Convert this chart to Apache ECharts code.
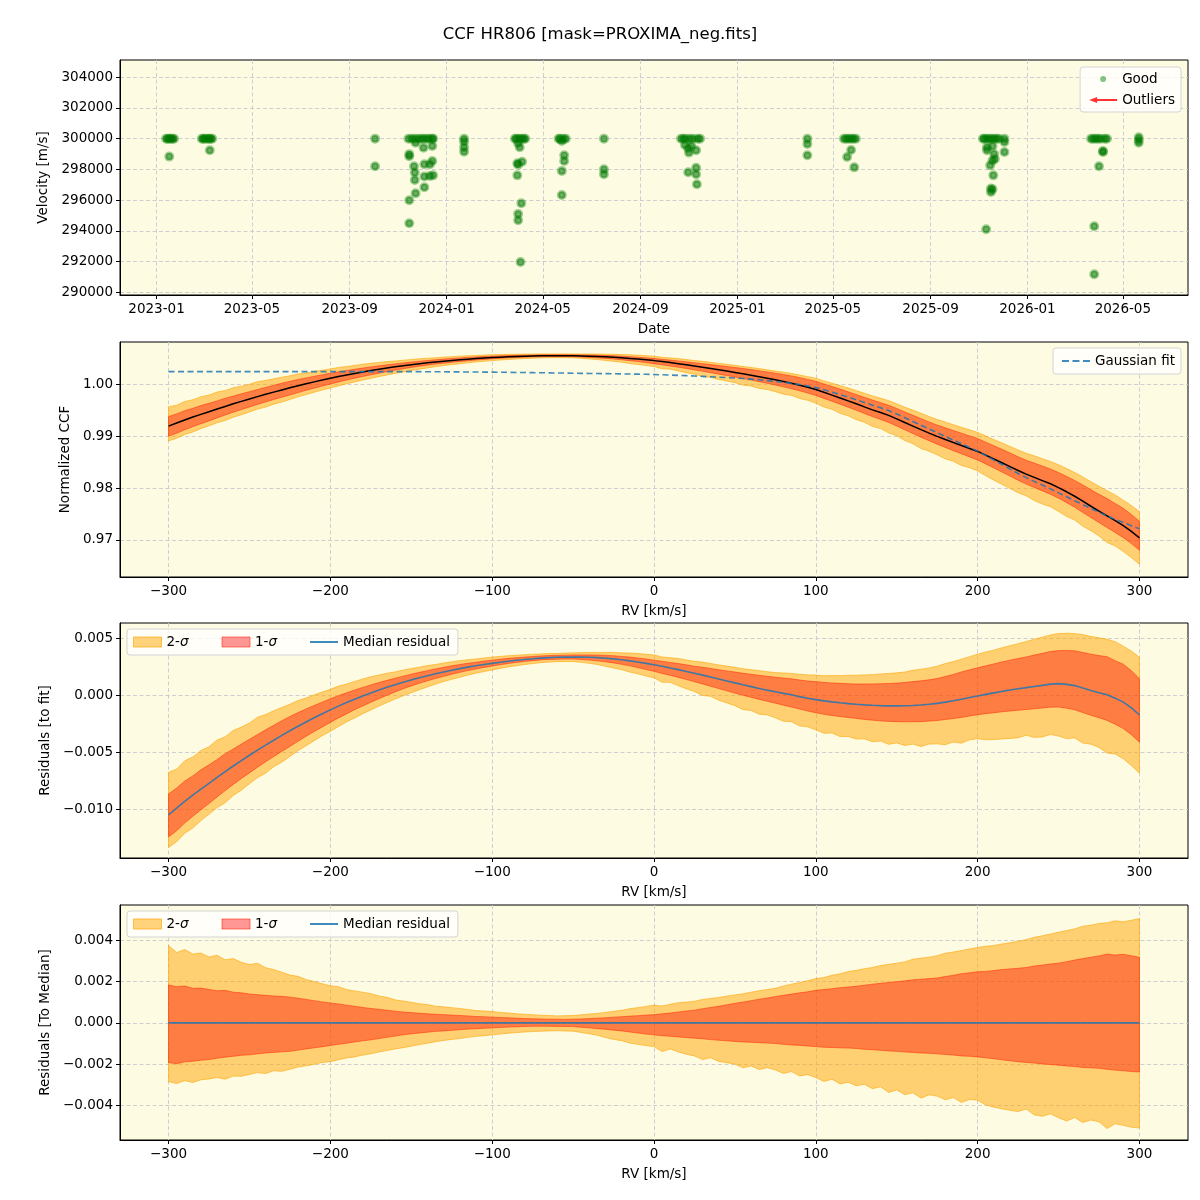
<!DOCTYPE html>
<html><head><meta charset="utf-8">
<script src="https://cdn.jsdelivr.net/npm/echarts/dist/echarts.min.js"></script>
<style>html,body{margin:0;padding:0;background:#fff}#c{width:1200px;height:1200px}</style>
</head><body><div id="c"></div>
<script>
const chartTitle = 'CCF HR806 [mask=PROXIMA_neg.fits]';

// ---- Panel 1: RV time series (date, velocity m/s) ----
const observations = [
 ['2023-01-13',300000],['2023-01-15',300000],['2023-01-17',300000],['2023-01-17',298830],['2023-01-19',300000],['2023-01-21',300000],['2023-01-23',300000],
 ['2023-02-27',300000],['2023-03-01',300000],['2023-03-03',300000],['2023-03-06',300000],['2023-03-08',300000],['2023-03-09',299240],['2023-03-10',300000],['2023-03-12',300000],
 ['2023-10-03',300000],['2023-10-03',298200],
 ['2023-11-14',300000],['2023-11-15',298990],['2023-11-15',298850],['2023-11-15',295990],['2023-11-15',294490],['2023-11-18',300000],['2023-11-21',298200],
 ['2023-11-22',300000],['2023-11-22',297790],['2023-11-22',297310],['2023-11-23',299740],['2023-11-23',296440],['2023-11-26',300000],['2023-11-30',300000],
 ['2023-12-03',300000],['2023-12-03',299410],['2023-12-04',298330],['2023-12-04',297530],['2023-12-04',296830],['2023-12-07',300000],['2023-12-10',300000],
 ['2023-12-11',298330],['2023-12-11',297570],['2023-12-14',300000],['2023-12-14',299520],['2023-12-14',298550],['2023-12-15',297610],['2023-12-15',300000],
 ['2024-01-23',300000],['2024-01-23',299800],['2024-01-23',299440],['2024-01-23',299150],
 ['2024-03-27',300000],['2024-03-29',300000],['2024-03-30',298400],['2024-03-30',297610],['2024-03-31',298310],['2024-03-31',295100],['2024-03-31',294690],
 ['2024-03-31',299700],['2024-04-01',300000],['2024-04-02',299440],['2024-04-03',291970],['2024-04-04',295790],['2024-04-04',300000],['2024-04-05',298500],
 ['2024-04-07',300000],['2024-04-09',300000],
 ['2024-05-21',300000],['2024-05-23',300000],['2024-05-25',299850],['2024-05-25',297900],['2024-05-25',296330],['2024-05-27',300000],['2024-05-28',298920],
 ['2024-05-28',298550],['2024-05-30',300000],
 ['2024-07-17',300000],['2024-07-17',298000],['2024-07-17',297680],
 ['2024-10-22',300000],['2024-10-25',300000],['2024-10-27',299590],['2024-10-28',300000],['2024-10-31',299370],['2024-10-31',297810],['2024-11-01',299090],
 ['2024-11-02',300000],['2024-11-04',299520],['2024-11-06',300000],['2024-11-10',299240],['2024-11-10',298110],['2024-11-10',297680],['2024-11-11',297030],
 ['2024-11-12',300000],['2024-11-15',300000],
 ['2025-03-30',300000],['2025-03-30',299650],['2025-03-30',298920],
 ['2025-05-15',300000],['2025-05-18',300000],['2025-05-19',298810],['2025-05-21',300000],['2025-05-24',299260],['2025-05-24',300000],['2025-05-27',300000],
 ['2025-05-28',298130],['2025-05-30',300000],
 ['2025-11-06',300000],['2025-11-08',300000],['2025-11-10',294100],['2025-11-11',299440],['2025-11-11',299240],['2025-11-11',300000],['2025-11-14',300000],
 ['2025-11-15',298260],['2025-11-16',296750],['2025-11-16',296530],['2025-11-17',300000],['2025-11-18',299520],['2025-11-18',298570],['2025-11-18',296700],
 ['2025-11-19',297610],['2025-11-20',299000],['2025-11-20',300000],['2025-11-21',298680],['2025-11-23',300000],['2025-11-26',300000],['2025-12-03',300000],
 ['2025-12-03',299780],['2025-12-03',299130],
 ['2026-03-22',300000],['2026-03-25',300000],['2026-03-26',294300],['2026-03-26',291170],['2026-03-28',300000],['2026-03-31',300000],['2026-04-01',298200],
 ['2026-04-03',300000],['2026-04-06',299130],['2026-04-06',299200],['2026-04-08',300000],['2026-04-11',300000],
 ['2026-05-21',300090],['2026-05-21',299910],['2026-05-21',299740]
];
const outliers = [];
const dateTicks = ['2023-01','2023-05','2023-09','2024-01','2024-05','2024-09','2025-01','2025-05','2025-09','2026-01','2026-05'];
const dateRange = ['2022-11-16','2026-07-22'];
const velTicks = [290000,292000,294000,296000,298000,300000,302000,304000];

// ---- Panels 2-4: CCF profile vs RV (km/s) ----
const rv = [
 -300,-295,-290,-285,-280,-275,-270,-265,-260,-255,-250,-245,-240,-235,-230,-225,-220,-215,-210,-205,
 -200,-195,-190,-185,-180,-175,-170,-165,-160,-155,-150,-145,-140,-135,-130,-125,-120,-115,-110,-105,
 -100,-95,-90,-85,-80,-75,-70,-65,-60,-55,-50,-45,-40,-35,-30,-25,-20,-15,-10,-5,
 0,5,10,15,20,25,30,35,40,45,50,55,60,65,70,75,80,85,90,95,
 100,105,110,115,120,125,130,135,140,145,150,155,160,165,170,175,180,185,190,195,
 200,205,210,215,220,225,230,235,240,245,250,255,260,265,270,275,280,285,290,295,300
];
const ccfMedian = [
 0.99195,0.99255,0.99314,0.99370,0.99422,0.99473,0.99525,0.99575,0.99625,0.99672,
 0.99719,0.99764,0.99808,0.99851,0.99893,0.99934,0.99973,1.00011,1.00048,1.00083,
 1.00117,1.00150,1.00181,1.00211,1.00239,1.00266,1.00291,1.00315,1.00338,1.00360,
 1.00380,1.00399,1.00416,1.00432,1.00447,1.00461,1.00474,1.00486,1.00497,1.00507,
 1.00516,1.00524,1.00531,1.00537,1.00542,1.00546,1.00550,1.00552,1.00553,1.00553,
 1.00551,1.00548,1.00544,1.00539,1.00532,1.00524,1.00513,1.00501,1.00489,1.00474,
 1.00458,1.00439,1.00420,1.00399,1.00377,1.00354,1.00331,1.00306,1.00281,1.00256,
 1.00231,1.00204,1.00177,1.00148,1.00118,1.00088,1.00056,1.00023,0.99985,0.99944,
 0.99902,0.99847,0.99793,0.99738,0.99682,0.99625,0.99567,0.99509,0.99457,0.99402,
 0.99335,0.99264,0.99195,0.99127,0.99061,0.98997,0.98937,0.98878,0.98821,0.98764,
 0.98707,0.98635,0.98562,0.98489,0.98415,0.98340,0.98269,0.98207,0.98145,0.98083,
 0.98010,0.97929,0.97843,0.97747,0.97650,0.97556,0.97464,0.97373,0.97277,0.97166,
 0.97041
];
const gaussFit = [
 1.00245,1.00245,1.00245,1.00245,1.00245,1.00245,1.00245,1.00245,1.00245,1.00245,
 1.00245,1.00245,1.00245,1.00245,1.00245,1.00245,1.00245,1.00245,1.00245,1.00245,
 1.00245,1.00245,1.00245,1.00245,1.00245,1.00245,1.00245,1.00245,1.00245,1.00245,
 1.00245,
 1.00245,1.00244,1.00243,1.00242,1.00241,1.00240,1.00239,1.00238,1.00237,1.00236,
 1.00234,1.00232,1.00230,1.00228,1.00226,1.00224,1.00222,1.00220,1.00218,1.00215,
 1.00213,1.00211,1.00209,1.00207,1.00205,1.00202,1.00199,1.00197,1.00194,1.00190,
 1.00185,1.00180,1.00174,1.00168,1.00161,1.00154,1.00146,1.00138,1.00130,1.00122,
 1.00112,1.00101,1.00088,1.00073,1.00057,1.00039,1.00019,0.99997,0.99970,0.99940,
 0.99896,0.99851,0.99804,0.99755,0.99704,0.99651,0.99597,0.99548,0.99495,0.99428,
 0.99356,0.99284,0.99212,0.99140,0.99068,0.98997,0.98926,0.98855,0.98784,0.98713,
 0.98627,0.98541,0.98455,0.98369,0.98283,0.98202,0.98130,0.98058,0.97985,0.97908,
 0.97833,0.97758,0.97683,0.97608,0.97533,0.97459,0.97398,0.97337,0.97276,0.97214
];
const residMedian = [
 -105.0e-4,-99.0e-4,-93.1e-4,-87.5e-4,-82.3e-4,-77.2e-4,-72.0e-4,-67.0e-4,-62.0e-4,-57.3e-4,
 -52.6e-4,-48.1e-4,-43.7e-4,-39.4e-4,-35.2e-4,-31.1e-4,-27.2e-4,-23.4e-4,-19.7e-4,-16.2e-4,
 -12.8e-4,-9.5e-4,-6.4e-4,-3.4e-4,-0.6e-4,2.1e-4,4.6e-4,7.0e-4,9.3e-4,11.5e-4,
 13.5e-4,15.4e-4,17.2e-4,18.9e-4,20.5e-4,22.0e-4,23.4e-4,24.7e-4,25.9e-4,27.0e-4,
 28.0e-4,29.0e-4,29.9e-4,30.7e-4,31.4e-4,32.0e-4,32.6e-4,33.0e-4,33.3e-4,33.5e-4,
 33.6e-4,33.5e-4,33.3e-4,33.0e-4,32.5e-4,31.9e-4,31.1e-4,30.2e-4,29.2e-4,28.0e-4,
 26.8e-4,25.4e-4,24.0e-4,22.5e-4,20.9e-4,19.3e-4,17.7e-4,16.0e-4,14.3e-4,12.6e-4,
 10.9e-4,9.2e-4,7.6e-4,6.0e-4,4.5e-4,3.1e-4,1.7e-4,0.4e-4,-1.2e-4,-2.6e-4,
 -3.8e-4,-4.9e-4,-5.8e-4,-6.6e-4,-7.3e-4,-7.9e-4,-8.4e-4,-8.8e-4,-9.1e-4,-9.3e-4,
 -9.3e-4,-9.2e-4,-8.9e-4,-8.5e-4,-7.9e-4,-7.1e-4,-6.0e-4,-4.8e-4,-3.4e-4,-2.0e-4,
 -0.6e-4,0.8e-4,2.1e-4,3.4e-4,4.6e-4,5.7e-4,6.7e-4,7.7e-4,8.7e-4,9.8e-4,
 10.2e-4,9.6e-4,8.5e-4,6.4e-4,4.2e-4,2.3e-4,0.5e-4,-2.5e-4,-6.0e-4,-11.0e-4,
 -17.3e-4
];
// band limits relative to the median profile
const sig2Up = [
 37.5e-4,34.2e-4,35.6e-4,33.4e-4,33.9e-4,32.0e-4,32.8e-4,30.6e-4,31.2e-4,29.4e-4,
 28.3e-4,28.9e-4,26.8e-4,25.9e-4,24.6e-4,23.2e-4,22.6e-4,21.0e-4,20.1e-4,19.0e-4,
 18.0e-4,17.6e-4,16.2e-4,15.5e-4,14.9e-4,14.2e-4,13.1e-4,12.4e-4,11.2e-4,10.6e-4,
 10.0e-4,9.3e-4,8.9e-4,8.1e-4,7.8e-4,7.4e-4,7.0e-4,6.5e-4,6.0e-4,5.8e-4,
 5.5e-4,5.1e-4,4.8e-4,4.4e-4,4.2e-4,4.0e-4,3.7e-4,3.6e-4,3.4e-4,3.5e-4,
 3.6e-4,3.9e-4,4.3e-4,4.6e-4,5.1e-4,5.6e-4,6.1e-4,6.9e-4,7.4e-4,8.0e-4,
 8.6e-4,8.2e-4,9.0e-4,9.8e-4,10.1e-4,10.5e-4,11.4e-4,11.9e-4,12.3e-4,13.0e-4,
 13.6e-4,14.1e-4,14.9e-4,15.6e-4,16.2e-4,16.8e-4,17.9e-4,18.8e-4,19.6e-4,20.5e-4,
 21.5e-4,22.0e-4,23.1e-4,23.8e-4,24.9e-4,25.5e-4,26.3e-4,26.9e-4,27.8e-4,28.4e-4,
 29.0e-4,29.6e-4,30.9e-4,31.4e-4,31.9e-4,32.6e-4,33.8e-4,34.4e-4,35.1e-4,35.9e-4,
 36.6e-4,37.2e-4,37.5e-4,38.3e-4,38.9e-4,39.6e-4,40.4e-4,41.5e-4,42.3e-4,43.1e-4,
 44.0e-4,44.8e-4,45.6e-4,46.9e-4,47.4e-4,48.2e-4,48.6e-4,49.5e-4,49.1e-4,49.8e-4,
 50.6e-4
];
const sig2Lo = [
 -28.5e-4,-29.4e-4,-28.0e-4,-28.9e-4,-27.6e-4,-27.2e-4,-26.5e-4,-27.3e-4,-25.8e-4,-25.9e-4,
 -25.0e-4,-24.1e-4,-24.6e-4,-23.2e-4,-23.5e-4,-22.5e-4,-21.4e-4,-20.8e-4,-20.1e-4,-19.2e-4,
 -18.8e-4,-17.9e-4,-17.0e-4,-16.5e-4,-15.6e-4,-15.0e-4,-14.1e-4,-13.4e-4,-12.6e-4,-12.0e-4,
 -11.3e-4,-10.5e-4,-9.9e-4,-9.1e-4,-8.5e-4,-8.0e-4,-7.6e-4,-7.0e-4,-6.5e-4,-6.2e-4,
 -5.8e-4,-5.4e-4,-5.0e-4,-4.7e-4,-4.4e-4,-4.2e-4,-4.0e-4,-3.9e-4,-3.8e-4,-3.9e-4,
 -4.0e-4,-4.6e-4,-5.3e-4,-6.0e-4,-7.1e-4,-8.0e-4,-8.6e-4,-9.8e-4,-10.4e-4,-11.0e-4,
 -11.5e-4,-13.9e-4,-12.6e-4,-14.1e-4,-15.2e-4,-16.0e-4,-17.8e-4,-16.9e-4,-18.7e-4,-19.3e-4,
 -20.0e-4,-21.8e-4,-20.9e-4,-22.6e-4,-21.7e-4,-22.8e-4,-24.5e-4,-23.6e-4,-25.7e-4,-25.1e-4,
 -26.5e-4,-28.4e-4,-27.3e-4,-29.6e-4,-28.8e-4,-30.5e-4,-29.8e-4,-31.9e-4,-31.0e-4,-33.7e-4,
 -32.5e-4,-34.8e-4,-33.9e-4,-36.5e-4,-34.9e-4,-35.5e-4,-37.3e-4,-36.2e-4,-38.6e-4,-37.1e-4,
 -37.5e-4,-39.8e-4,-40.9e-4,-41.7e-4,-42.4e-4,-43.0e-4,-41.8e-4,-44.6e-4,-45.3e-4,-44.1e-4,
 -46.0e-4,-47.6e-4,-45.9e-4,-48.3e-4,-47.1e-4,-48.0e-4,-51.2e-4,-48.9e-4,-49.7e-4,-50.6e-4,
 -51.0e-4
];
const sig1Up = [
 18.4e-4,17.6e-4,17.9e-4,16.8e-4,16.9e-4,16.2e-4,15.6e-4,15.8e-4,14.9e-4,14.6e-4,
 14.0e-4,13.7e-4,13.4e-4,13.1e-4,12.9e-4,12.5e-4,12.0e-4,11.4e-4,10.8e-4,10.2e-4,
 9.7e-4,9.2e-4,8.6e-4,8.1e-4,7.5e-4,7.0e-4,6.6e-4,6.1e-4,5.7e-4,5.3e-4,
 5.0e-4,4.7e-4,4.4e-4,4.2e-4,4.0e-4,3.8e-4,3.6e-4,3.4e-4,3.1e-4,3.0e-4,
 2.8e-4,2.6e-4,2.5e-4,2.3e-4,2.1e-4,2.0e-4,1.9e-4,1.8e-4,1.8e-4,1.7e-4,
 1.8e-4,1.9e-4,2.1e-4,2.3e-4,2.5e-4,2.8e-4,3.0e-4,3.3e-4,3.5e-4,3.8e-4,
 4.0e-4,4.4e-4,4.8e-4,5.3e-4,5.8e-4,6.2e-4,6.9e-4,7.5e-4,8.1e-4,8.8e-4,
 9.5e-4,10.1e-4,10.8e-4,11.5e-4,12.1e-4,12.8e-4,13.4e-4,14.0e-4,14.6e-4,15.1e-4,
 15.8e-4,16.2e-4,16.6e-4,17.1e-4,17.4e-4,17.8e-4,18.3e-4,18.8e-4,19.2e-4,19.6e-4,
 20.0e-4,20.4e-4,20.9e-4,21.2e-4,21.5e-4,21.8e-4,22.5e-4,23.1e-4,23.9e-4,24.3e-4,
 24.8e-4,25.0e-4,25.4e-4,25.9e-4,26.2e-4,26.5e-4,26.9e-4,27.6e-4,28.1e-4,28.6e-4,
 29.0e-4,29.7e-4,30.5e-4,31.2e-4,31.9e-4,32.5e-4,33.4e-4,32.9e-4,33.3e-4,32.6e-4,
 31.8e-4
];
const sig1Lo = [
 -19.2e-4,-19.8e-4,-18.9e-4,-18.6e-4,-18.1e-4,-17.8e-4,-17.1e-4,-16.6e-4,-16.2e-4,-15.7e-4,
 -15.5e-4,-15.0e-4,-14.6e-4,-14.3e-4,-14.0e-4,-13.8e-4,-13.2e-4,-12.6e-4,-12.1e-4,-11.6e-4,
 -11.0e-4,-10.4e-4,-9.9e-4,-9.2e-4,-8.7e-4,-8.2e-4,-7.6e-4,-7.0e-4,-6.4e-4,-5.8e-4,
 -5.3e-4,-4.9e-4,-4.5e-4,-4.1e-4,-3.9e-4,-3.6e-4,-3.3e-4,-3.0e-4,-2.8e-4,-2.6e-4,
 -2.4e-4,-2.2e-4,-2.0e-4,-1.9e-4,-1.7e-4,-1.6e-4,-1.6e-4,-1.6e-4,-1.7e-4,-1.7e-4,
 -1.8e-4,-2.1e-4,-2.4e-4,-2.8e-4,-3.1e-4,-3.5e-4,-3.9e-4,-4.4e-4,-4.9e-4,-5.4e-4,
 -5.8e-4,-6.2e-4,-6.5e-4,-6.8e-4,-7.1e-4,-7.4e-4,-7.7e-4,-8.1e-4,-8.4e-4,-8.7e-4,
 -9.0e-4,-9.2e-4,-9.4e-4,-9.6e-4,-9.8e-4,-10.0e-4,-10.4e-4,-10.7e-4,-10.9e-4,-11.2e-4,
 -11.5e-4,-11.8e-4,-11.9e-4,-12.1e-4,-12.2e-4,-12.4e-4,-12.8e-4,-13.0e-4,-13.3e-4,-13.6e-4,
 -13.8e-4,-14.1e-4,-14.3e-4,-14.6e-4,-14.7e-4,-15.0e-4,-15.3e-4,-15.6e-4,-16.0e-4,-16.2e-4,
 -16.5e-4,-16.9e-4,-17.4e-4,-17.9e-4,-18.4e-4,-18.8e-4,-19.2e-4,-19.5e-4,-19.9e-4,-20.2e-4,
 -20.5e-4,-20.9e-4,-21.2e-4,-21.6e-4,-21.8e-4,-22.0e-4,-22.5e-4,-22.9e-4,-23.2e-4,-23.6e-4,
 -23.8e-4
];
const rvTicks = [-300,-200,-100,0,100,200,300];
const ccfTicks = [0.97,0.98,0.99,1.00];
const fitResidTicks = [-0.010,-0.005,0.000,0.005];
const medResidTicks = [-0.004,-0.002,0.000,0.002,0.004];

// ---------------- rendering ----------------
const FONT = 'DejaVu Sans';
const FS = 13.5;
const BG = '#fdfbe2';
const C2 = 'rgba(255,165,0,0.5)';
const C2E = 'rgba(255,165,0,0.65)';
const C1 = 'rgba(255,0,0,0.4)';
const C1E = 'rgba(255,30,0,0.55)';
const BLUE = 'rgba(31,119,180,0.85)';
const minus = s => String(s).replace(/-/g, '\u2212');
const ts = s => Date.parse(s.length === 7 ? s + '-01T00:00:00Z' : s + 'T00:00:00Z');
const pad2 = n => (n < 10 ? '0' : '') + n;

const grids = [
  {left:120, right:12, top:60, height:235},
  {left:120, right:12, top:342, height:235},
  {left:120, right:12, top:623, height:235},
  {left:120, right:12, top:905, height:235}
].map(g => Object.assign(g, {show:true, backgroundColor:BG, borderColor:'#000', borderWidth:1, containLabel:false}));

const splitLine = {show:true, lineStyle:{color:'#c9c9cf', width:0.9, type:[4,2.5]}};
function baseAxis(gi, ticks, fmt, extra) {
  return Object.assign({
    type:'value', gridIndex:gi, scale:true,
    axisLine:{show:true, onZero:false, lineStyle:{color:'#000', width:1}},
    axisTick:{show:true, customValues:ticks, length:4, lineStyle:{color:'#000', width:1}},
    axisLabel:{show:true, customValues:ticks, formatter:fmt, color:'#000', fontSize:FS, fontFamily:FONT, margin:7},
    splitLine:splitLine,
    nameTextStyle:{color:'#000', fontSize:FS, fontFamily:FONT},
    nameLocation:'middle'
  }, extra);
}

const dateTickVals = dateTicks.map(ts);
const xAxes = [
  baseAxis(0, dateTickVals, v => { const d = new Date(v); return d.getUTCFullYear() + '-' + pad2(d.getUTCMonth() + 1); },
    {min: ts(dateRange[0]), max: ts(dateRange[1]), name:'Date', nameGap:27}),
  baseAxis(1, rvTicks, v => minus(v), {min:-330, max:330, name:'RV [km/s]', nameGap:27}),
  baseAxis(2, rvTicks, v => minus(v), {min:-330, max:330, name:'RV [km/s]', nameGap:27}),
  baseAxis(3, rvTicks, v => minus(v), {min:-330, max:330, name:'RV [km/s]', nameGap:27})
];
const yAxes = [
  baseAxis(0, velTicks, v => String(v), {min:289820, max:305120, name:'Velocity [m/s]', nameGap:68}),
  baseAxis(1, ccfTicks, v => v.toFixed(2), {min:0.96286, max:1.00817, name:'Normalized CCF', nameGap:47}),
  baseAxis(2, fitResidTicks, v => minus(v.toFixed(3)), {min:-0.01427, max:0.00634, name:'Residuals [to fit]', nameGap:67}),
  baseAxis(3, medResidTicks, v => minus(v.toFixed(3)), {min:-0.00568, max:0.00572, name:'Residuals [To Median]', nameGap:67})
];

// a filled band between center+lo and center+hi, drawn as one polygon through the axis scales
function band(name, color, edge, gi, center, lo, hi) {
  const data = rv.map((x, i) => [x, center(i) + lo[i], center(i) + hi[i]]);
  return {
    type:'custom', name: name, xAxisIndex:gi, yAxisIndex:gi, silent:true, z:2,
    itemStyle:{color: color}, encode:{x:0, y:[1, 2]}, data: data,
    renderItem: function (params, api) {
      if (params.dataIndex !== 0) return null;
      const upper = data.map(d => api.coord([d[0], d[2]]));
      const lower = data.map(d => api.coord([d[0], d[1]])).reverse();
      return {type:'polygon', shape:{points: upper.concat(lower)},
              style:{fill: color, stroke: edge, lineWidth: 0.9, lineJoin:'round'}};
    }
  };
}

const series = [];
// panel 1
series.push({type:'scatter', name:'Good', xAxisIndex:0, yAxisIndex:0, symbol:'circle', symbolSize:7,
  itemStyle:{color:'rgba(0,115,0,0.72)', borderColor:'rgba(0,128,0,0.45)', borderWidth:3}, z:3,
  data: observations.map(o => [ts(o[0]), o[1]])});
series.push({type:'scatter', name:'Outliers', xAxisIndex:0, yAxisIndex:0, itemStyle:{color:'red'}, data: outliers});
// panel 2
series.push(band('CCF 2-σ', C2, C2E, 1, i => ccfMedian[i], sig2Lo, sig2Up));
series.push(band('CCF 1-σ', C1, C1E, 1, i => ccfMedian[i], sig1Lo, sig1Up));
series.push({type:'line', name:'Median CCF', xAxisIndex:1, yAxisIndex:1, symbol:'none', showSymbol:false, z:3,
  lineStyle:{color:'#000', width:1.5}, data: rv.map((x, i) => [x, ccfMedian[i]])});
series.push({type:'line', name:'Gaussian fit', xAxisIndex:1, yAxisIndex:1, symbol:'none', showSymbol:false, z:4,
  lineStyle:{color:BLUE, width:1.6, type:[6,3.5]}, itemStyle:{color:BLUE}, data: rv.map((x, i) => [x, gaussFit[i]])});
// panel 3
series.push(band('2-σ', C2, C2E, 2, i => residMedian[i], sig2Lo, sig2Up));
series.push(band('1-σ', C1, C1E, 2, i => residMedian[i], sig1Lo, sig1Up));
series.push({type:'line', name:'Median residual', xAxisIndex:2, yAxisIndex:2, symbol:'none', showSymbol:false, z:4,
  lineStyle:{color:BLUE, width:1.6}, itemStyle:{color:BLUE}, data: rv.map((x, i) => [x, residMedian[i]])});
// panel 4 (residuals relative to the median profile; the median itself is zero)
series.push(band('2-σ', C2, C2E, 3, i => 0, sig2Lo, sig2Up));
series.push(band('1-σ', C1, C1E, 3, i => 0, sig1Lo, sig1Up));
series.push({type:'line', name:'Median residual', xAxisIndex:3, yAxisIndex:3, symbol:'none', showSymbol:false, z:4,
  lineStyle:{color:BLUE, width:1.6}, itemStyle:{color:BLUE}, data: rv.map(x => [x, 0])});

const legendBox = {backgroundColor:'rgba(255,255,255,0.8)', borderColor:'#d4d4d4', borderWidth:1, borderRadius:3};
const legText = {color:'#000', fontSize:FS, fontFamily:FONT, rich:{i:{fontStyle:'italic', fontSize:FS, fontFamily:FONT, color:'#000'}}};
const arrowIcon = 'path://M28,2 L8,2 L8,0 L0,3 L8,6 L8,4 L28,4 Z';
const solidIcon = 'path://M0,0 L28,0 L28,2 L0,2 Z';
const dashedIcon = 'path://M0,0 L7,0 L7,2 L0,2 Z M10.5,0 L17.5,0 L17.5,2 L10.5,2 Z M21,0 L28,0 L28,2 L21,2 Z';
function sigmaLegend(top) {
  return Object.assign({show:true, left:127, top: top, orient:'horizontal', itemWidth:28, itemHeight:10, itemGap:33,
    padding:[6,8,6,6], textStyle: legText, selectedMode:false,
    formatter: n => n.replace('σ', '{i|σ}'),
    data:[{name:'2-σ', icon:'rect', itemStyle:{color:C2, borderColor:C2E, borderWidth:1}},
          {name:'1-σ', icon:'rect', itemStyle:{color:C1, borderColor:C1E, borderWidth:1}},
          {name:'Median residual', icon: solidIcon, itemStyle:{color:BLUE}}]}, legendBox);
}
const legends = [
  Object.assign({right:19, top:67, orient:'vertical', itemWidth:28, itemHeight:6, itemGap:7, padding:[5,6,5,9],
    textStyle: legText, selectedMode:false,
    data:[{name:'Good', icon:'circle', itemStyle:{color:'rgba(0,128,0,0.6)', borderWidth:0}},
          {name:'Outliers', icon: arrowIcon, itemStyle:{color:'red', borderWidth:0}}]}, legendBox),
  Object.assign({right:19, top:348, orient:'vertical', itemWidth:28, itemHeight:10, padding:[6,6,6,9],
    textStyle: legText, selectedMode:false, data:[{name:'Gaussian fit', icon: dashedIcon, itemStyle:{color:BLUE}}]}, legendBox),
  sigmaLegend(629),
  sigmaLegend(911)
];

const chart = echarts.init(document.getElementById('c'), null, {renderer:'canvas'});
chart.setOption({
  backgroundColor:'#fff',
  animation:false,
  title:{text:chartTitle, left:'center', top:21, textStyle:{fontSize:16.5, fontWeight:'normal', color:'#000', fontFamily:FONT}},
  grid: grids, xAxis: xAxes, yAxis: yAxes, legend: legends, series: series
});
</script></body></html>
